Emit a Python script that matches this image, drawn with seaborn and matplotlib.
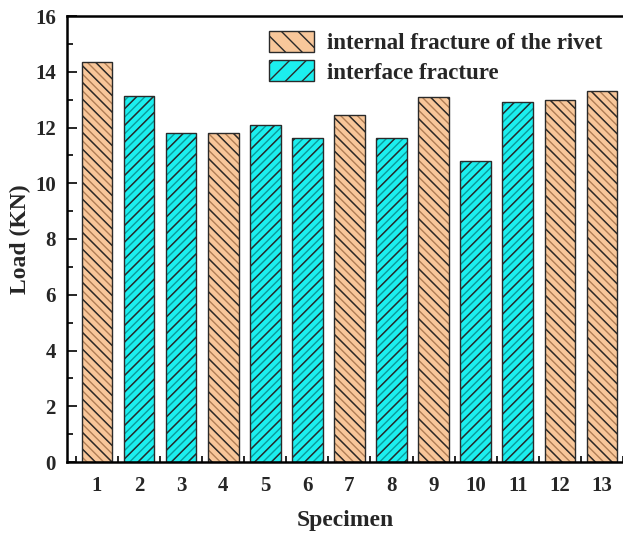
import numpy as np
import pandas as pd
import matplotlib
matplotlib.use("Agg")
import matplotlib.pyplot as plt
from matplotlib.patches import Rectangle, Patch
import seaborn as sns

# data
specimens = [str(i) for i in range(1, 14)]
loads = [14.35, 13.12, 11.82, 11.82, 12.1, 11.62, 12.45, 11.63, 13.1, 10.8, 12.93, 12.97, 13.3]
modes = ["internal fracture of the rivet", "interface fracture", "interface fracture",
         "internal fracture of the rivet", "interface fracture", "interface fracture",
         "internal fracture of the rivet", "interface fracture", "internal fracture of the rivet",
         "interface fracture", "interface fracture", "internal fracture of the rivet",
         "internal fracture of the rivet"]
mode_names = ["internal fracture of the rivet", "interface fracture"]
mode_colors = ["#F8C79A", "#1CEFEF"]
mode_hatch = ["\\\\", "//"]
mode_light = ["#B07E55", "#0B9C9C"]

df = pd.DataFrame({"Specimen": specimens, "Load": loads, "Mode": modes})

sns.set_style("ticks")
plt.rcParams["font.family"] = ["Liberation Serif", "DejaVu Serif"]
plt.rcParams["font.weight"] = "bold"
plt.rcParams["hatch.linewidth"] = 1.0

fig = plt.figure(figsize=(6.23, 5.36), dpi=100)
ax = fig.add_axes([67 / 623, 74 / 536, 556 / 623, 446 / 536])

sns.barplot(data=df, x="Specimen", y="Load", hue="Mode", hue_order=mode_names,
            palette=mode_colors, saturation=1, dodge=False, width=0.73,
            legend=False, linewidth=0, ax=ax)

# hatch: faint lines in between, dark lines on top
bars = [p for p in ax.patches if p.get_height() > 0]
for p in bars:
    k = 0 if p.get_facecolor()[2] < 0.8 else 1
    xy = (p.get_x(), p.get_y())
    w, h = p.get_width(), p.get_height()
    light = Rectangle(xy, w, h, facecolor="none", edgecolor=mode_light[k],
                      hatch=mode_hatch[k] * 2, linewidth=0.5,
                      zorder=p.get_zorder() + 0.05)
    ax.add_patch(light)
    over = Rectangle(xy, w, h, facecolor="none", edgecolor="#2a2a2a",
                     hatch=mode_hatch[k], linewidth=1.0,
                     zorder=p.get_zorder() + 0.1)
    ax.add_patch(over)

handles = [Patch(facecolor=mode_colors[k], edgecolor="#2a2a2a", hatch=mode_hatch[k], linewidth=1.0)
           for k in range(2)]
ax.legend(handles, mode_names, loc="upper left", bbox_to_anchor=(0.363, 0.967),
          frameon=False, handlelength=1.97, handleheight=1.05,
          borderpad=0, borderaxespad=0, labelspacing=0.26, handletextpad=0.57,
          prop={"family": ["Liberation Serif"], "weight": "bold", "size": 16.5})

ax.set_ylim(0, 16)
ax.set_xlim(-0.71, 12.43)
ax.set_yticks(np.arange(0, 17, 2))
ax.set_yticks(np.arange(1, 16, 2), minor=True)
ax.set_xticks(np.arange(-0.5, 12.6, 1), minor=True)
ax.tick_params(axis="both", which="major", direction="in", length=7, width=1.4,
               labelsize=15, pad=8)
ax.tick_params(axis="both", which="minor", direction="in", length=4, width=1.4)
ax.tick_params(axis="x", which="major", pad=10)
ax.set_xlabel("Specimen", fontsize=17, fontweight="bold", labelpad=10)
ax.set_ylabel("Load (KN)", fontsize=17, fontweight="bold", labelpad=3)
for s in ["left", "bottom", "top"]:
    ax.spines[s].set_linewidth(1.8)
    ax.spines[s].set_color("black")
ax.spines["right"].set_visible(False)

fig.savefig("out.png", dpi=100)
